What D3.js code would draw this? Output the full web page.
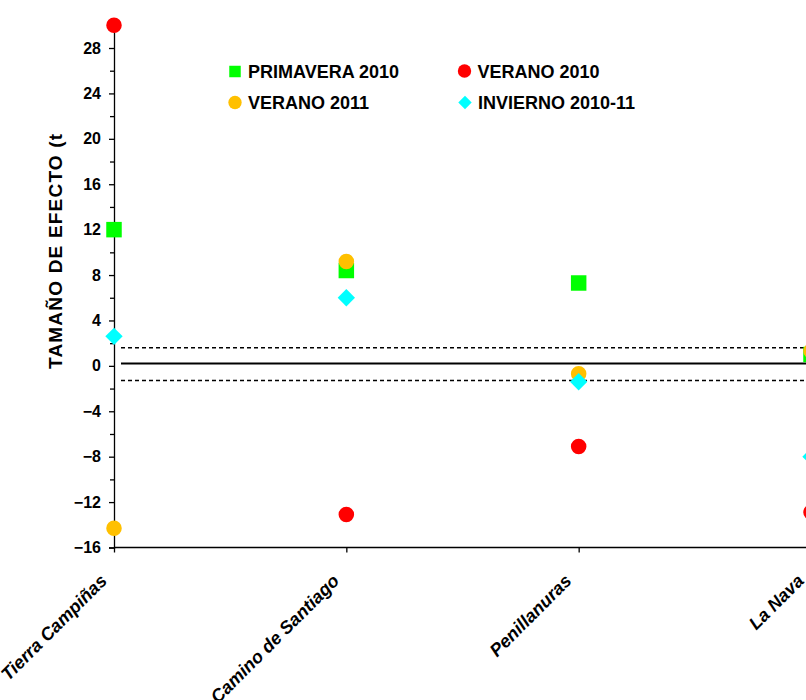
<!DOCTYPE html>
<html>
<head>
<meta charset="utf-8">
<script src="https://cdn.jsdelivr.net/npm/d3@7"></script>
<style>
  html, body { margin: 0; padding: 0; background: #fff; overflow: hidden; }
  svg { display: block; font-family: "Liberation Sans", Arial, sans-serif; }
</style>
</head>
<body>
<svg id="chart" width="806" height="700"></svg>
<script>
// ---- data ----
const categories = ["Tierra Campiñas", "Camino de Santiago", "Penillanuras", "La Nava"];
const seriesNames = ["PRIMAVERA 2010", "VERANO 2010", "VERANO 2011", "INVIERNO 2010-11"];
const primavera2010 = [12.0, 8.4, 7.3, 1.0];
const verano2010 = [30.0, -13.1, -7.1, -12.9];
const verano2011 = [-14.3, 9.2, -0.7, 1.3];
const invierno2010_11 = [2.6, 6.0, -1.4, -8.0];
const yTicks = [-16, -12, -8, -4, 0, 4, 8, 12, 16, 20, 24, 28];
const yMinorTicks = [-14, -10, -6, -2, 2, 6, 10, 14, 18, 22, 26];
const refSolid = [0.2];
const refDashed = [1.6, -1.3];

// ---- styles ----
const colors = ["#00FF00", "#FF0000", "#FFC000", "#00FFFF"];
const shapes = [d3.symbolSquare, d3.symbolCircle, d3.symbolCircle, d3.symbolSquare];
const rotations = [0, 0, 0, 45];
const sizes = [240, 190, 190, 150];

const svg = d3.select("#chart");

const y = d3.scaleLinear().domain([-16, 30]).range([547.5, 25.3]);
const x = d3.scalePoint().domain(categories).range([114, 811]);

// reference lines
const refG = svg.append("g");
refG.selectAll("line.solid").data(refSolid).join("line")
  .attr("x1", 121).attr("x2", 830)
  .attr("y1", d => y(d)).attr("y2", d => y(d))
  .attr("stroke", "#000").attr("stroke-width", 2);
refG.selectAll("line.dash").data(refDashed).join("line")
  .attr("x1", 121).attr("x2", 830)
  .attr("y1", d => y(d)).attr("y2", d => y(d))
  .attr("stroke", "#000").attr("stroke-width", 1.5)
  .attr("stroke-dasharray", "4,3");

// y axis
const yAxis = svg.append("g").attr("transform", "translate(114,0)");
yAxis.call(d3.axisLeft(y).tickValues(yTicks).tickSize(5).tickPadding(8).tickFormat(d3.format("d")));
yAxis.select(".domain").attr("stroke", "#000").attr("stroke-width", 1.3);
yAxis.selectAll(".tick line").attr("stroke", "#000").attr("stroke-width", 1.3);
yAxis.selectAll(".tick text")
  .attr("font-family", "'Liberation Sans', Arial, sans-serif")
  .attr("font-size", 16).attr("font-weight", "bold").attr("fill", "#000");
const yMinor = svg.append("g").attr("transform", "translate(114,0)");
yMinor.call(d3.axisLeft(y).tickValues(yMinorTicks).tickSize(4).tickFormat(""));
yMinor.select(".domain").remove();
yMinor.selectAll(".tick line").attr("stroke", "#000").attr("stroke-width", 1.3);

// x axis
const xAxis = svg.append("g").attr("transform", `translate(0,${y(-16)})`);
xAxis.call(d3.axisBottom(x).tickSize(5).tickSizeOuter(0).tickFormat(""));
xAxis.select(".domain").attr("stroke", "#000").attr("stroke-width", 1.3)
  .attr("d", `M114,0H830`);
xAxis.selectAll(".tick line").attr("stroke", "#000").attr("stroke-width", 1.3);

// category labels
svg.append("g").selectAll("text").data(categories).join("text")
  .attr("transform", d => `translate(${x(d) - 6},582) rotate(-45)`)
  .attr("text-anchor", "end")
  .attr("font-size", 18).attr("font-weight", "bold").attr("font-style", "italic")
  .attr("fill", "#000")
  .text(d => d);

// y axis title (clipped like the reference)
svg.append("clipPath").attr("id", "ytclip")
  .append("rect").attr("x", 0).attr("y", 133).attr("width", 100).attr("height", 300);
svg.append("g").attr("clip-path", "url(#ytclip)")
  .append("text")
  .attr("transform", "translate(62,369) rotate(-90)")
  .attr("text-anchor", "start")
  .attr("font-size", 19).attr("font-weight", "bold").attr("letter-spacing", 1.2)
  .attr("fill", "#000")
  .text("TAMAÑO DE EFECTO (t)");

// points
const allSeries = [primavera2010, verano2010, verano2011, invierno2010_11];
allSeries.forEach((vals, si) => {
  svg.append("g").selectAll("path").data(vals).join("path")
    .attr("transform", (d, i) => `translate(${x(categories[i])},${y(d)}) rotate(${rotations[si]})`)
    .attr("d", d3.symbol().type(shapes[si]).size(sizes[si]))
    .attr("fill", colors[si]);
});

// legend
const legendPos = [[235, 71.5], [464.5, 71], [235, 102.5], [465, 102.5]];
const legendSizes = [132, 140, 140, 90];
const leg = svg.append("g");
seriesNames.forEach((name, i) => {
  leg.append("path")
    .attr("transform", `translate(${legendPos[i][0]},${legendPos[i][1]}) rotate(${rotations[i]})`)
    .attr("d", d3.symbol().type(shapes[i]).size(legendSizes[i]))
    .attr("fill", colors[i]);
  leg.append("text")
    .attr("x", legendPos[i][0] + 13).attr("y", legendPos[i][1] + 6.5)
    .attr("font-size", 18).attr("font-weight", "bold").attr("fill", "#000")
    .text(name);
});
</script>
</body>
</html>
